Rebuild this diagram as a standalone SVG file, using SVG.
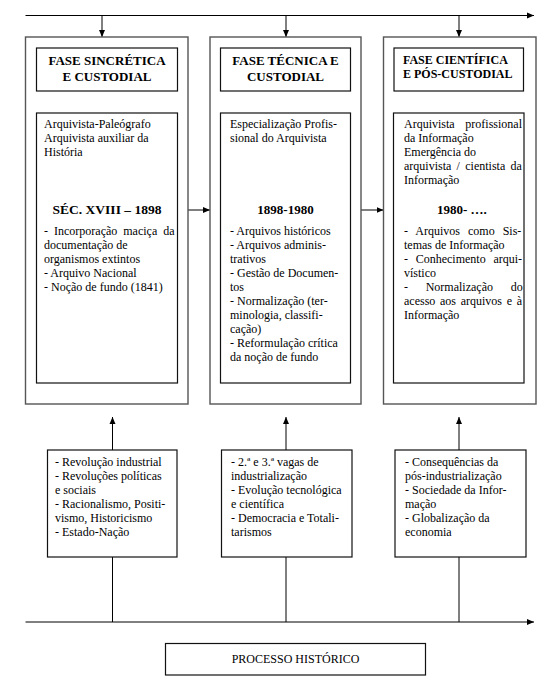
<svg xmlns="http://www.w3.org/2000/svg" width="552" height="692" viewBox="0 0 552 692">
<style>
.outer{fill:#fff;stroke:#555;stroke-width:1.4}
.box{fill:#fff;stroke:#111;stroke-width:1.2}
.ln{stroke:#000;stroke-width:1;fill:none}
text{font-family:"Liberation Serif","Times New Roman",serif;fill:#000}
.t{font-size:12px}
.h{font-size:13px;font-weight:bold;text-anchor:middle}
.h3{font-size:12px;font-weight:bold}
.y{font-size:13px;font-weight:bold}
.c{text-anchor:middle}
</style>
<defs>
<marker id="ar" markerUnits="userSpaceOnUse" markerWidth="8" markerHeight="8" viewBox="0 0 8 8" refX="7" refY="4" orient="auto">
<path d="M0,1 L7,4 L0,7 z" fill="#000"/>
</marker>
</defs>
<rect width="552" height="692" fill="#fff"/>

<g id="connectors">
<line class="ln" x1="25.5" y1="15.5" x2="534" y2="15.5" marker-end="url(#ar)"/>
<line class="ln" x1="102" y1="15.5" x2="102" y2="37" marker-end="url(#ar)"/>
<line class="ln" x1="286" y1="15.5" x2="286" y2="37" marker-end="url(#ar)"/>
<line class="ln" x1="459" y1="15.5" x2="459" y2="37" marker-end="url(#ar)"/>
<line class="ln" x1="188" y1="210" x2="210" y2="210" marker-end="url(#ar)"/>
<line class="ln" x1="361" y1="210" x2="383.5" y2="210" marker-end="url(#ar)"/>
<line class="ln" x1="112.5" y1="450" x2="112.5" y2="417" marker-end="url(#ar)"/>
<line class="ln" x1="286" y1="450" x2="286" y2="417" marker-end="url(#ar)"/>
<line class="ln" x1="459" y1="450" x2="459" y2="417" marker-end="url(#ar)"/>
<line class="ln" x1="112.5" y1="557" x2="112.5" y2="622"/>
<line class="ln" x1="286" y1="557" x2="286" y2="622"/>
<line class="ln" x1="459" y1="557" x2="459" y2="622"/>
<line class="ln" x1="25.5" y1="622" x2="534" y2="622" marker-end="url(#ar)"/>
</g>

<g id="phase1">
<rect class="outer" x="25.5" y="37" width="162.5" height="367"/>
<g id="phase1-title">
<rect class="box" x="36.5" y="48" width="141" height="43"/>
<text class="h" x="107" y="65">FASE SINCRÉTICA</text>
<text class="h" x="107" y="81">E CUSTODIAL</text>
</g>
<g id="phase1-content">
<rect class="box" x="36.5" y="113" width="141" height="270"/>
<text class="t" x="44" y="128">Arquivista-Paleógrafo</text>
<text class="t" x="44" y="142">Arquivista auxiliar da</text>
<text class="t" x="44" y="156">História</text>
<text class="y c" x="107" y="214" style="font-size:13.5px">SÉC. XVIII – 1898</text>
<text class="t" x="44" y="235" word-spacing="3">- Incorporação maciça da</text>
<text class="t" x="44" y="249">documentação de</text>
<text class="t" x="44" y="263">organismos extintos</text>
<text class="t" x="44" y="277">- Arquivo Nacional</text>
<text class="t" x="44" y="291">- Noção de fundo (1841)</text>
</g>
</g>

<g id="phase2">
<rect class="outer" x="210" y="37" width="151" height="367"/>
<g id="phase2-title">
<rect class="box" x="220.5" y="48" width="130" height="43"/>
<text class="h" x="285.5" y="65">FASE TÉCNICA E</text>
<text class="h" x="285.5" y="81">CUSTODIAL</text>
</g>
<g id="phase2-content">
<rect class="box" x="220.5" y="113" width="130" height="270"/>
<text class="t" x="230" y="128">Especialização Profis-</text>
<text class="t" x="230" y="142">sional do Arquivista</text>
<text class="y c" x="285.5" y="214">1898-1980</text>
<text class="t" x="230" y="235">- Arquivos históricos</text>
<text class="t" x="230" y="249">- Arquivos adminis-</text>
<text class="t" x="230" y="263">trativos</text>
<text class="t" x="230" y="277">- Gestão de Documen-</text>
<text class="t" x="230" y="291">tos</text>
<text class="t" x="230" y="305">- Normalização (ter-</text>
<text class="t" x="230" y="319">minologia, classifi-</text>
<text class="t" x="230" y="333">cação)</text>
<text class="t" x="230" y="347">- Reformulação crítica</text>
<text class="t" x="230" y="361">da noção de fundo</text>
</g>
</g>

<g id="phase3">
<rect class="outer" x="383.5" y="37" width="152.5" height="367"/>
<g id="phase3-title">
<rect class="box" x="394" y="48" width="129.5" height="43"/>
<text class="h3" x="403" y="64">FASE CIENTÍFICA</text>
<text class="h3" x="403" y="78">E PÓS-CUSTODIAL</text>
</g>
<g id="phase3-content">
<rect class="box" x="393.5" y="113" width="130.5" height="270"/>
<text class="t" x="404" y="128" word-spacing="7.7">Arquivista profissional</text>
<text class="t" x="404" y="142">da Informação</text>
<text class="t" x="404" y="156">Emergência do</text>
<text class="t" x="404" y="170" word-spacing="2.3">arquivista / cientista da</text>
<text class="t" x="404" y="184">Informação</text>
<text class="y" x="437" y="214">1980- ….</text>
<text class="t" x="404" y="235" word-spacing="5">- Arquivos como Sis-</text>
<text class="t" x="404" y="249">temas de Informação</text>
<text class="t" x="404" y="263" word-spacing="4.7">- Conhecimento arqui-</text>
<text class="t" x="404" y="277">vístico</text>
<text class="t" x="404" y="291" word-spacing="14.7">- Normalização do</text>
<text class="t" x="404" y="305" word-spacing="1.7">acesso aos arquivos e à</text>
<text class="t" x="404" y="319">Informação</text>
</g>
</g>

<g id="context1">
<rect class="box" x="47.5" y="450" width="129.5" height="107"/>
<text class="t" x="55" y="466">- Revolução industrial</text>
<text class="t" x="55" y="480">- Revoluções políticas</text>
<text class="t" x="55" y="494">e sociais</text>
<text class="t" x="55" y="508">- Racionalismo, Positi-</text>
<text class="t" x="55" y="522">vismo, Historicismo</text>
<text class="t" x="55" y="536">- Estado-Nação</text>
</g>

<g id="context2">
<rect class="box" x="221.5" y="450" width="130.5" height="107"/>
<text class="t" x="231" y="466">- 2.ª e 3.ª vagas de</text>
<text class="t" x="231" y="480">industrialização</text>
<text class="t" x="231" y="494">- Evolução tecnológica</text>
<text class="t" x="231" y="508">e científica</text>
<text class="t" x="231" y="522">- Democracia e Totali-</text>
<text class="t" x="231" y="536">tarismos</text>
</g>

<g id="context3">
<rect class="box" x="395" y="450" width="131" height="107"/>
<text class="t" x="405" y="466">- Consequências da</text>
<text class="t" x="405" y="480">pós-industrialização</text>
<text class="t" x="405" y="494">- Sociedade da Infor-</text>
<text class="t" x="405" y="508">mação</text>
<text class="t" x="405" y="522">- Globalização da</text>
<text class="t" x="405" y="536">economia</text>
</g>

<g id="processo">
<rect class="box" x="165.5" y="643.5" width="260" height="31.5"/>
<text class="t c" x="295.5" y="663">PROCESSO HISTÓRICO</text>
</g>
</svg>
